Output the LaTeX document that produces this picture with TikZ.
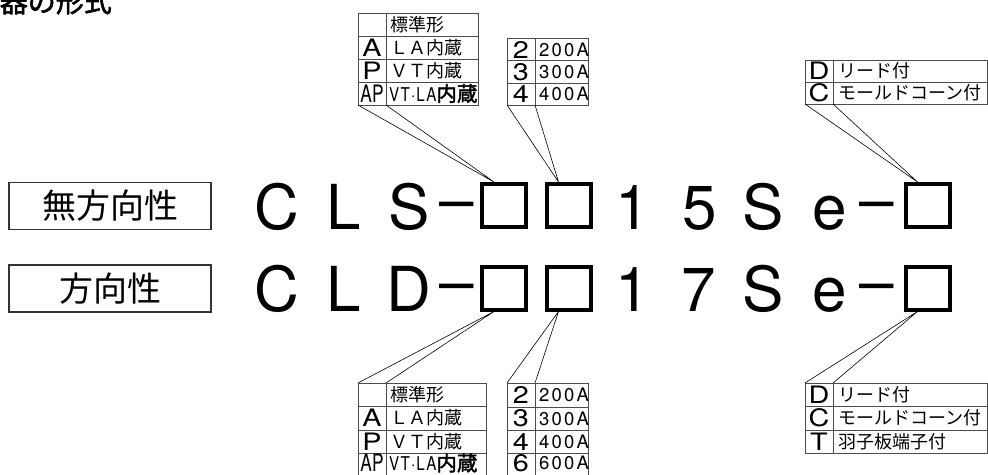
\documentclass[tikz,border=0pt]{standalone}
\usepackage{fontspec}
\setmainfont{TeX Gyre Heros}
\newfontfamily\jp{Noto Sans CJK JP}
\newfontfamily\jpbold[FakeBold=2]{Noto Sans CJK JP}
\newfontfamily\keyfont[FakeStretch=1.2]{TeX Gyre Heros}
\newfontfamily\narrowfont[FakeStretch=0.72]{TeX Gyre Heros}
\newfontfamily\condfont[FakeStretch=0.8, LetterSpace=6]{TeX Gyre Heros}
\newfontfamily\spacedfont[LetterSpace=12]{TeX Gyre Heros}

\begin{document}
\begin{tikzpicture}[x=1pt, y=-1pt]

    \tikzset{
        code/.style={font=\fontsize{62}{62}\selectfont, anchor=base, inner sep=0pt},
        sq/.style={draw, line width=4pt, minimum width=44pt, minimum height=43pt, inner sep=0pt},
        key/.style={font=\keyfont\fontsize{24}{24}\selectfont, inner sep=0pt},
        narrowkey/.style={font=\narrowfont\fontsize{24}{24}\selectfont, inner sep=0pt},
        desc/.style={font=\jp\fontsize{18}{18}\selectfont, anchor=west, inner sep=0pt},
        num/.style={font=\spacedfont\fontsize{18.5}{18.5}\selectfont, anchor=west, inner sep=0pt},
        tabline/.style={draw=black!70, line width=0.9pt},
        lead/.style={line width=0.6pt},
        kind/.style={draw=black!80, line width=1.2pt, minimum width=202pt,
            minimum height=47pt, font=\jp\fontsize{34}{34}\selectfont}
    }
    \def\dash{\raisebox{8pt}{–}}
    \def\vtla{{\condfont\fontsize{19}{19}\selectfont VT·LA}{\jpbold\fontsize{20.5}{20.5}\selectfont 内蔵}}
    \useasboundingbox (0,0) rectangle (988,474);

    % heading, cut at the top
    \node[font=\jpbold\fontsize{28}{28}\selectfont, anchor=base east, inner sep=0pt]
        (title) at (112,12) {器の形式};

    % the two kinds
    \node[kind] (nondir) at (110,206) {無方向性};
    \node[kind] (dir) at (110,288.5) {方向性};

    % type code, first row
    \foreach \x/\c/\n in {277/C/c1, 344/L/l1, 409/S/s1, 457/\dash/h1,
                          633/1/o1, 700/5/f1, 763/S/t1, 830/e/e1, 877/\dash/h2}
        \node[code] (\n) at (\x,229) {\c};
    \node[sq] (b1) at (504,205.5) {};
    \node[sq] (b2) at (568.5,205.5) {};
    \node[sq] (b3) at (927.5,205.5) {};

    % type code, second row
    \foreach \x/\c/\n in {277/C/c2, 344/L/l2, 409/D/s2, 457/\dash/h3,
                          633/1/o2, 699/7/f2, 763/S/t2, 830/e/e2, 877/\dash/h4}
        \node[code] (\n) at (\x,311) {\c};
    \node[sq] (b4) at (504,288) {};
    \node[sq] (b5) at (568.5,288) {};
    \node[sq] (b6) at (927.5,288) {};

    % upper option table
    \draw[tabline] (358,13) rectangle (478,105);
    \draw[tabline] (386,13) -- (386,105);
    \foreach \y in {36,59,82} \draw[tabline] (358,\y) -- (478,\y);
    \coordinate (ua) at (358,105);
    \coordinate (ub) at (386,105);
    \node[desc] (ustd) at (390,24.5) {標準形};
    \node[key] (uka) at (372,47.5) {A};
    \node[desc] (uda) at (390,47.5) {ＬＡ内蔵};
    \node[key] (ukp) at (372,70.5) {P};
    \node[desc] (udp) at (390,70.5) {ＶＴ内蔵};
    \node[narrowkey] (ukap) at (372,93.5) {AP};
    \node[desc] (udap) at (389,93.5) {\vtla};

    % upper current table
    \draw[tabline] (507,38) rectangle (588,105);
    \draw[tabline] (535,38) -- (535,105);
    \foreach \y in {60.5,83} \draw[tabline] (507,\y) -- (588,\y);
    \coordinate (uc) at (507,105);
    \coordinate (ud) at (535,105);
    \node[key] (uk2) at (521,49.5) {2};
    \node[num] (un2) at (539,49.5) {200A};
    \node[key] (uk3) at (521,72) {3};
    \node[num] (un3) at (539,72) {300A};
    \node[key] (uk4) at (521,94) {4};
    \node[num] (un4) at (539,94) {400A};

    % upper cable end table
    \draw[tabline] (805,60) rectangle (987,104);
    \draw[tabline] (833,60) -- (833,104);
    \draw[tabline] (805,82) -- (987,82);
    \coordinate (ue) at (805,104);
    \coordinate (uf) at (833,104);
    \node[key] (ukd) at (819,71) {D};
    \node[desc] (udd) at (838,71) {リード付};
    \node[key] (ukc) at (819,93) {C};
    \node[desc] (udc) at (838,93) {モールドコーン付};

    % lower option table
    \draw[tabline] (358,476) -- (358,383) -- (486,383) -- (486,476);
    \draw[tabline] (386,383) -- (386,476);
    \foreach \y in {406.5,430,453} \draw[tabline] (358,\y) -- (486,\y);
    \coordinate (la) at (358,383);
    \coordinate (lb) at (386,383);
    \node[desc] (lstd) at (390,394.5) {標準形};
    \node[key] (lka) at (372,418) {A};
    \node[desc] (lda) at (390,418) {ＬＡ内蔵};
    \node[key] (lkp) at (372,441.5) {P};
    \node[desc] (ldp) at (390,441.5) {ＶＴ内蔵};
    \node[narrowkey] (lkap) at (372,463) {AP};
    \node[desc] (ldap) at (389,463) {\vtla};

    % lower current table
    \draw[tabline] (507,476) -- (507,383) -- (588,383) -- (588,476);
    \draw[tabline] (535,383) -- (535,476);
    \foreach \y in {407,430,453} \draw[tabline] (507,\y) -- (588,\y);
    \coordinate (lc) at (507,383);
    \coordinate (ld) at (535,383);
    \node[key] (lk2) at (521,395) {2};
    \node[num] (ln2) at (539,395) {200A};
    \node[key] (lk3) at (521,418.5) {3};
    \node[num] (ln3) at (539,418.5) {300A};
    \node[key] (lk4) at (521,441.5) {4};
    \node[num] (ln4) at (539,441.5) {400A};
    \node[key] (lk6) at (521,463) {6};
    \node[num] (ln6) at (539,463) {600A};

    % lower cable end table
    \draw[tabline] (805,383) rectangle (987,453);
    \draw[tabline] (833,383) -- (833,453);
    \foreach \y in {406.5,430} \draw[tabline] (805,\y) -- (987,\y);
    \coordinate (le) at (805,383);
    \coordinate (lf) at (833,383);
    \node[key] (lkd) at (819,394.5) {D};
    \node[desc] (ldd) at (838,394.5) {リード付};
    \node[key] (lkc) at (819,418) {C};
    \node[desc] (ldc) at (838,418) {モールドコーン付};
    \node[key] (lkt) at (819,441.5) {T};
    \node[desc] (ldt) at (838,441.5) {羽子板端子付};

    % leaders from the tables to the boxes
    \draw[lead] (ua) -- ([xshift=14pt]b1.north west) -- (ub);
    \draw[lead] (uc) -- ([xshift=14pt]b2.north west) -- (ud);
    \draw[lead] (ue) -- ([xshift=14pt]b3.north west) -- (uf);
    \draw[lead] (la) -- ([xshift=14pt]b4.south west) -- (lb);
    \draw[lead] (lc) -- ([xshift=14pt]b5.south west) -- (ld);
    \draw[lead] (le) -- ([xshift=14pt]b6.south west) -- (lf);

\end{tikzpicture}
\end{document}
